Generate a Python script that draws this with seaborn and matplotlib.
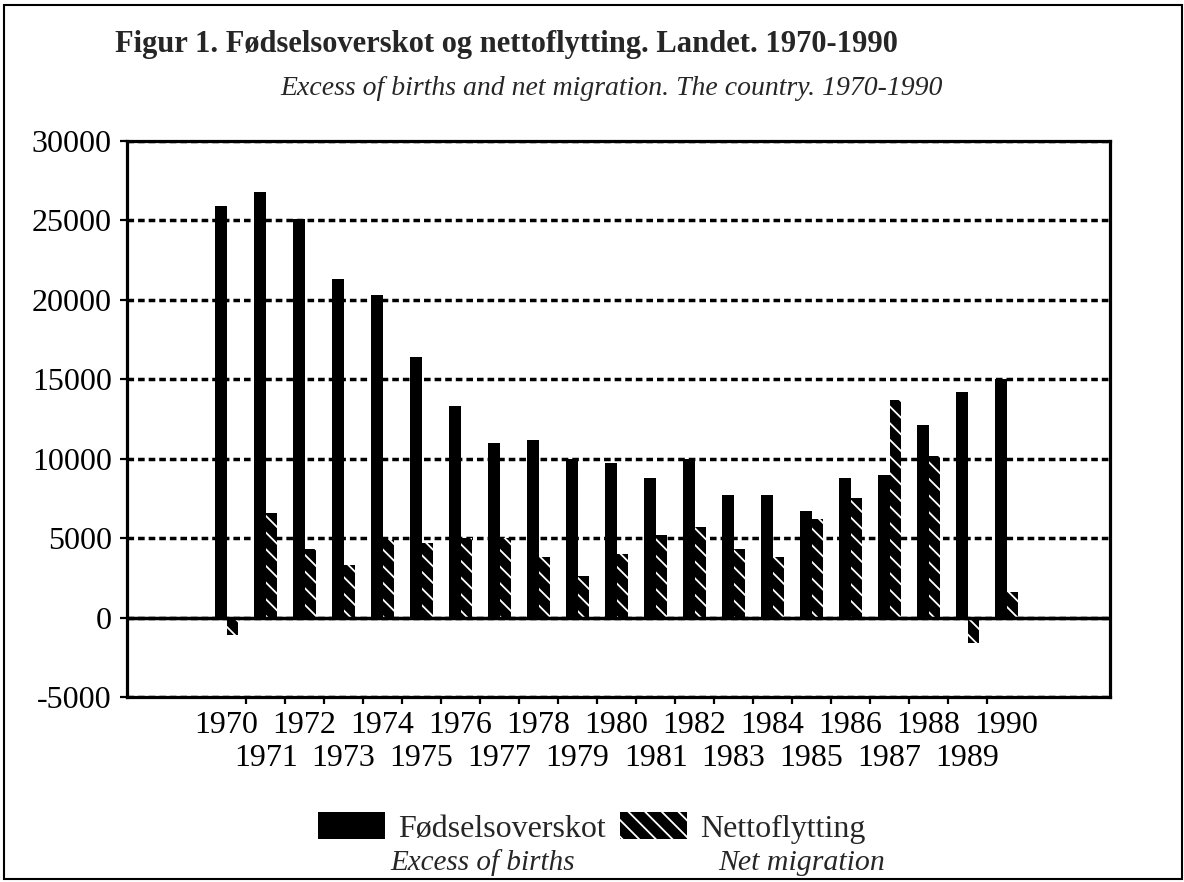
#%%-----------------------------------------------------------------------
# Importing the required packages
import numpy as np
import pandas as pd
import matplotlib
matplotlib.use("Agg")
import matplotlib.pyplot as plt
import seaborn as sns
from matplotlib.patches import Patch, Rectangle

#%%-----------------------------------------------------------------------
# data
years = list(range(1970, 1991))
births = [25900, 26800, 25100, 21300, 20300, 16400, 13300, 11000, 11200, 10000, 9700,
          8800, 10000, 7700, 7700, 6700, 8800, 9000, 12100, 14200, 15000]
net_migration = [-1100, 6600, 4300, 3300, 4900, 4700, 5000, 5000, 3800, 2600, 4000,
                 5200, 5700, 4300, 3800, 6200, 7500, 13700, 10200, -1600, 1600]
series_no = ["Fødselsoverskot", "Nettoflytting"]
series_en = ["Excess of births", "Net migration"]
y_ticks = [-5000, 0, 5000, 10000, 15000, 20000, 25000, 30000]
title_no = "Figur 1. Fødselsoverskot og nettoflytting. Landet. 1970-1990"
title_en = "Excess of births and net migration. The country. 1970-1990"

# long format for seaborn
df = pd.DataFrame({
    "year": years + years,
    "value": births + net_migration,
    "series": [series_no[0]] * len(years) + [series_no[1]] * len(years),
})

#%%-----------------------------------------------------------------------
# style
sns.set_theme(style="white")
plt.rcParams["font.family"] = ["Liberation Serif", "DejaVu Serif"]
plt.rcParams["hatch.linewidth"] = 1.3

fig = plt.figure(figsize=(11.84, 8.82), dpi=100)
ax = fig.add_axes([0.10726, 0.20975, 0.83024, 0.63039])

sns.barplot(data=df, x="year", y="value", hue="series", hue_order=series_no,
            palette=["black", "black"], width=0.6, saturation=1, errorbar=None,
            legend=False, ax=ax)

# solid bars / hatched bars (white stripes on black)
for bar in ax.containers[0]:
    bar.set_linewidth(0)
for bar in ax.containers[1]:
    bar.set_hatch("\\\\")
    bar.set_edgecolor("white")
    bar.set_linewidth(0)

#%%-----------------------------------------------------------------------
# axes
ax.set_xlim(-2.556, 22.65)
ax.set_ylim(-5000, 30000)
ax.set_xlabel("")
ax.set_ylabel("")

ax.set_yticks(y_ticks)
ax.set_yticklabels([str(v) for v in y_ticks])
ax.tick_params(axis="y", left=True, length=5, width=1.6, direction="out",
               pad=6, labelsize=23, colors="black")

# even years on the first row, odd years on the second row
pos = np.arange(len(years))
ax.set_xticks(pos[::2], [str(y) for y in years[::2]])
ax.set_xticks(pos[1::2], [str(y) for y in years[1::2]], minor=True)
ax.tick_params(axis="x", which="major", length=0, pad=10, labelsize=23, labelcolor="black")
ax.tick_params(axis="x", which="minor", length=0, pad=34, labelsize=23, labelcolor="black")

# small marks between the year groups
sec = ax.secondary_xaxis("bottom")
sec.set_xticks(np.arange(0.5, len(years) - 1, 1))
sec.tick_params(axis="x", length=5, width=1.6, direction="out", labelbottom=False, color="black")
sec.spines["bottom"].set_visible(False)

for sp in ax.spines.values():
    sp.set_visible(True)
    sp.set_color("black")
    sp.set_linewidth(2.3)

ax.set_axisbelow(True)
ax.grid(axis="y", color="black", linestyle=(0, (1.9, 1.15)), linewidth=2.5)
ax.grid(axis="x", visible=False)
ax.axhline(0, color="black", linewidth=2.5, zorder=3)

#%%-----------------------------------------------------------------------
# titles
fig.text(115 / 1184, 1 - 52 / 882, title_no, fontsize=22, fontweight="bold", va="baseline")
fig.text(280 / 1184, 1 - 95 / 882, title_en, fontsize=20, fontstyle="italic", va="baseline")

#%%-----------------------------------------------------------------------
# legend
handles = [Patch(facecolor="black", edgecolor="black", linewidth=0),
           Patch(facecolor="black", edgecolor="white", hatch="\\\\", linewidth=0)]
fig.legend(handles, series_no, loc="center left", bbox_to_anchor=(0.2686, 1 - 828 / 882),
           ncol=2, frameon=False, fontsize=23, handlelength=2.1, handleheight=0.9,
           handletextpad=0.4, columnspacing=0.45, borderpad=0, borderaxespad=0)
fig.text(390 / 1184, 1 - 870 / 882, series_en[0], fontsize=21, fontstyle="italic", va="baseline")
fig.text(718 / 1184, 1 - 870 / 882, series_en[1], fontsize=21.5, fontstyle="italic", va="baseline")

# page frame
fig.patches.append(Rectangle((0.0034, 0.0034), 0.9949, 0.9909, transform=fig.transFigure,
                             fill=False, edgecolor="black", linewidth=1.5))

fig.savefig("out.png", dpi=100)
